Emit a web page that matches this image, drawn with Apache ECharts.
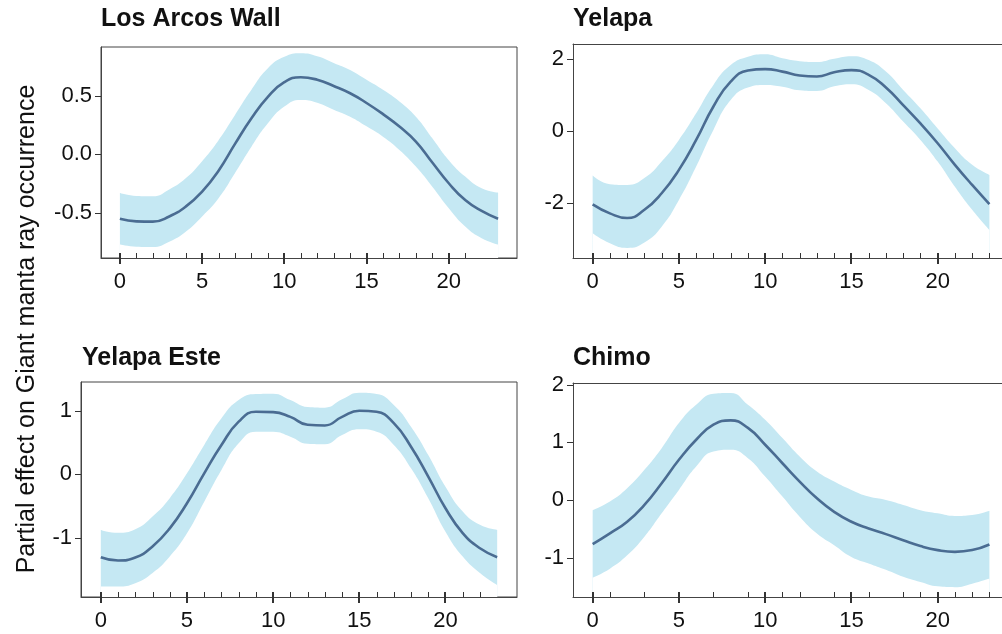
<!DOCTYPE html>
<html>
<head>
<meta charset="utf-8">
<script src="https://cdn.jsdelivr.net/npm/echarts@6/dist/echarts.min.js"></script>
<style>html,body{margin:0;padding:0;background:#fff;}#c{width:1002px;height:634px;}</style>
</head>
<body>
<div id="c"></div>
<script>
const hours = [0,1,2,3,4,5,6,7,8,9,10,11,12,13,14,15,16,17,18,19,20,21,22,23];
const xTicks = [0,5,10,15,20];

const titles = ['Los Arcos Wall','Yelapa','Yelapa Este','Chimo'];
const yLabel = 'Partial effect on Giant manta ray occurrence';

// Los Arcos Wall
const losArcosFit   = [-0.55,-0.572,-0.574,-0.53,-0.446,-0.318,-0.14,0.088,0.307,0.49,0.614,0.656,0.635,0.582,0.52,0.437,0.342,0.236,0.108,-0.07,-0.247,-0.39,-0.483,-0.55];
const losArcosUpper = [-0.33,-0.355,-0.358,-0.30,-0.205,-0.06,0.12,0.335,0.55,0.733,0.83,0.86,0.835,0.778,0.718,0.635,0.55,0.45,0.32,0.136,-0.05,-0.19,-0.29,-0.327];
const losArcosLower = [-0.77,-0.788,-0.79,-0.745,-0.66,-0.53,-0.375,-0.16,0.065,0.264,0.406,0.463,0.44,0.38,0.32,0.238,0.15,0.037,-0.105,-0.276,-0.46,-0.616,-0.716,-0.77];
const losArcosRug   = [0,1,2,3,4,5,6,7,8,9,10,11,12,13,14,15,16,17,18,19,20,21];

// Yelapa
const yelapaFit   = [-2.04,-2.29,-2.42,-2.19,-1.73,-1.08,-0.25,0.68,1.37,1.68,1.72,1.65,1.54,1.515,1.63,1.69,1.56,1.21,0.72,0.21,-0.34,-0.94,-1.5,-2.03];
const yelapaUpper = [-1.24,-1.48,-1.5,-1.31,-0.85,-0.25,0.49,1.28,1.83,2.06,2.13,2.02,1.94,1.92,2.01,2.08,1.97,1.65,1.14,0.63,0.07,-0.48,-0.94,-1.22];
const yelapaLower = [-2.84,-3.12,-3.25,-3.1,-2.66,-1.92,-0.99,0.03,0.86,1.21,1.28,1.23,1.13,1.11,1.24,1.3,1.14,0.77,0.26,-0.25,-0.85,-1.55,-2.19,-2.75];
const yelapaRug   = [0,1,2,3,4,5,6,7,8,9,10,11,12,13,14,15,16,17,18,19,20,21,22,23];

// Yelapa Este
const esteFit   = [-1.31,-1.362,-1.315,-1.14,-0.856,-0.46,0.01,0.457,0.824,0.98,0.975,0.9,0.775,0.765,0.9,0.997,0.98,0.8,0.43,-0.04,-0.54,-0.93,-1.17,-1.31];
const esteUpper = [-0.88,-0.925,-0.87,-0.67,-0.38,0.01,0.457,0.877,1.165,1.26,1.265,1.165,1.055,1.045,1.176,1.28,1.26,1.087,0.745,0.3,-0.2,-0.59,-0.8,-0.88];
const esteLower = [-1.77,-1.772,-1.72,-1.56,-1.3,-0.934,-0.436,0.063,0.483,0.667,0.665,0.588,0.475,0.468,0.614,0.703,0.667,0.457,0.09,-0.383,-0.908,-1.3,-1.56,-1.75];
const esteRug   = [0,1,2,3,4,5,6,7,8,9,10,11,12,13,14,15,16,17,18,19,20,21,22];

// Chimo
const chimoFit   = [-0.757,-0.57,-0.37,-0.08,0.295,0.70,1.046,1.306,1.38,1.25,0.96,0.64,0.324,0.035,-0.2,-0.37,-0.486,-0.584,-0.69,-0.79,-0.86,-0.89,-0.86,-0.763];
const chimoUpper = [-0.17,-0.02,0.21,0.526,0.9,1.335,1.65,1.84,1.855,1.65,1.39,1.075,0.757,0.497,0.324,0.18,0.064,0.006,-0.08,-0.17,-0.225,-0.27,-0.254,-0.18];
const chimoLower = [-1.335,-1.18,-0.95,-0.63,-0.225,0.18,0.584,0.844,0.873,0.728,0.41,0.064,-0.283,-0.572,-0.775,-0.977,-1.09,-1.2,-1.32,-1.41,-1.486,-1.5,-1.44,-1.35];
const chimoRug   = [0,1,3,5,7,9,10,11,12,14,15,16,18,19,20,21,22,23];

const yTicks = [[-0.5,0,0.5],[-2,0,2],[-1,0,1],[-1,0,1,2]];
const yRanges = [[-0.884,0.914],[-3.53,2.417],[-1.937,1.449],[-1.67,2.026]];
const yDecimals = [1,0,0,0];
const xRanges = [[-1.15,24.15],[-1.14,23.73],[-1.15,24.15],[-1.14,23.73]];
const openRight = [false,true,false,true];

const panels = [
  {fit: losArcosFit, up: losArcosUpper, lo: losArcosLower, rug: losArcosRug},
  {fit: yelapaFit, up: yelapaUpper, lo: yelapaLower, rug: yelapaRug},
  {fit: esteFit, up: esteUpper, lo: esteLower, rug: esteRug},
  {fit: chimoFit, up: chimoUpper, lo: chimoLower, rug: chimoRug}
];

const gridPos = [
  {left: 101, top: 47, width: 416, height: 211},
  {left: 573, top: 44, width: 429, height: 214},
  {left: 81, top: 382, width: 436, height: 215},
  {left: 573, top: 383, width: 429, height: 214}
];
const titlePos = [{left: 101, top: 7},{left: 573, top: 7},{left: 82, top: 346},{left: 573, top: 346}];

const FONT = '"Liberation Sans", Arial, Helvetica, sans-serif';
const LINE = '#4a6c92';
const BAND = '#c5e8f3';
const AXIS = '#444';
const TICK = '#333';
const SMOOTH = 0.5;

function px(v) { return Math.round(v) + 0.5; }

const grid = [], xAxis = [], yAxis = [], series = [], title = [];
panels.forEach((p, i) => {
  const yMin = yRanges[i][0];
  const xr = xRanges[i];
  grid.push(Object.assign({show: !openRight[i], borderColor: AXIS, borderWidth: 1, backgroundColor: 'transparent'}, gridPos[i]));
  title.push(Object.assign({text: titles[i], textStyle: {fontFamily: FONT, fontSize: 25, fontWeight: 'bold', color: '#111'}, padding: 0}, titlePos[i]));
  const xi = xAxis.length;
  xAxis.push({
    type: 'value', gridIndex: i, min: xr[0], max: xr[1], position: 'bottom', z: 6,
    axisLine: {show: true, onZero: false, lineStyle: {color: AXIS, width: 1}},
    axisTick: {show: false},
    axisLabel: {show: true, customValues: xTicks, margin: 13, fontFamily: FONT, fontSize: 22, color: '#111'},
    splitLine: {show: false}
  });
  if (openRight[i]) {
    // top frame line for panels whose right edge runs off the page
    xAxis.push({
      type: 'value', gridIndex: i, min: xr[0], max: xr[1], position: 'top', z: 6,
      axisLine: {show: true, onZero: false, lineStyle: {color: AXIS, width: 1}},
      axisTick: {show: false}, axisLabel: {show: false}, splitLine: {show: false}
    });
  }
  yAxis.push({
    type: 'value', gridIndex: i, min: yRanges[i][0], max: yRanges[i][1], z: 6,
    axisLine: {show: true, onZero: false, lineStyle: {color: AXIS, width: 1}},
    axisTick: {show: false},
    axisLabel: {show: true, customValues: yTicks[i], margin: 9, fontFamily: FONT, fontSize: 22, color: '#111',
      formatter: (v) => Number(v).toFixed(yDecimals[i])},
    splitLine: {show: false}
  });
  // upper band edge filled down to axis min
  series.push({
    type: 'line', xAxisIndex: xi, yAxisIndex: i,
    data: hours.map((h, k) => [h, p.up[k]]), smooth: SMOOTH, symbol: 'none',
    lineStyle: {width: 0, opacity: 0}, areaStyle: {color: BAND, opacity: 1, origin: 'start'}, silent: true, z: 1
  });
  // lower band edge filled white down to axis min (leaves the band between)
  series.push({
    type: 'line', xAxisIndex: xi, yAxisIndex: i,
    data: hours.map((h, k) => [h, p.lo[k]]), smooth: SMOOTH, symbol: 'none',
    lineStyle: {width: 0, opacity: 0}, areaStyle: {color: '#ffffff', opacity: 1, origin: 'start'}, silent: true, z: 2
  });
  series.push({
    type: 'line', xAxisIndex: xi, yAxisIndex: i,
    data: hours.map((h, k) => [h, p.fit[k]]), smooth: SMOOTH, symbol: 'none',
    lineStyle: {color: LINE, width: 2.6}, silent: true, z: 3
  });
  // rug ticks (inside, upward)
  series.push({
    type: 'custom', xAxisIndex: xi, yAxisIndex: i, clip: false, silent: true, z: 7,
    data: p.rug.map(h => [h, yMin]),
    renderItem: (params, api) => {
      const c = api.coord([api.value(0), api.value(1)]);
      const x = px(c[0]);
      return {type: 'line', shape: {x1: x, y1: c[1], x2: x, y2: c[1] - 5}, style: {stroke: TICK, lineWidth: 1}};
    }
  });
  // major x ticks (crossing the axis)
  series.push({
    type: 'custom', xAxisIndex: xi, yAxisIndex: i, clip: false, silent: true, z: 7,
    data: xTicks.map(h => [h, yMin]),
    renderItem: (params, api) => {
      const c = api.coord([api.value(0), api.value(1)]);
      const x = Math.round(c[0]);
      return {type: 'line', shape: {x1: x, y1: c[1] - 5, x2: x, y2: c[1] + 6}, style: {stroke: TICK, lineWidth: 2}};
    }
  });
  // y ticks (outside, left)
  series.push({
    type: 'custom', xAxisIndex: xi, yAxisIndex: i, clip: false, silent: true, z: 7,
    data: yTicks[i].map(v => [xr[0], v]),
    renderItem: (params, api) => {
      const c = api.coord([api.value(0), api.value(1)]);
      const y = px(c[1]);
      return {type: 'line', shape: {x1: c[0] - 6, y1: y, x2: c[0], y2: y}, style: {stroke: TICK, lineWidth: 1}};
    }
  });
});

const chart = echarts.init(document.getElementById('c'), null, {renderer: 'canvas'});
chart.setOption({
  animation: false,
  backgroundColor: '#fff',
  title, grid, xAxis, yAxis, series,
  graphic: [{
    type: 'text', x: 27, y: 329, rotation: Math.PI / 2,
    style: {text: yLabel, font: '25px ' + FONT, fill: '#111', align: 'center', verticalAlign: 'middle'}
  }]
});
</script>
</body>
</html>
